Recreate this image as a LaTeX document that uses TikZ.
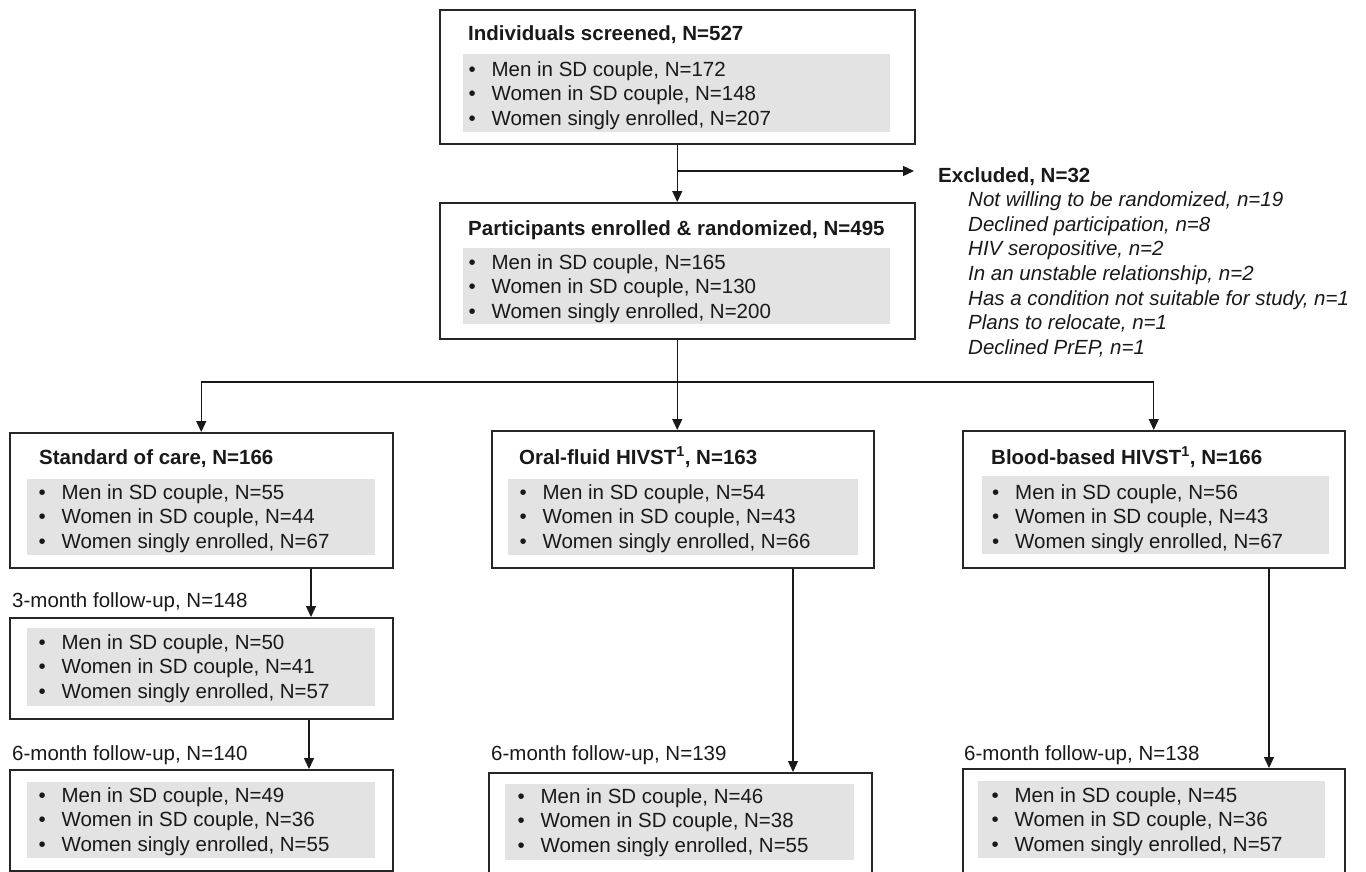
\documentclass[tikz,border=0pt]{standalone}
\usepackage{fontspec}
\setmainfont{Liberation Sans}
\usetikzlibrary{arrows.meta}

\newcommand{\fs}{\fontsize{20.5}{24.6}\selectfont}
\newcommand{\threelines}[5]{
	\node [item] (#1-a) at (#2) {#3};
	\node [item] (#1-b) at ([yshift=-24.6pt]#1-a.base west) {#4};
	\node [item] (#1-c) at ([yshift=-24.6pt]#1-b.base west) {#5};
}

\begin{document}
\begin{tikzpicture}[x=1pt, y=-1pt, font=\fs, text=black!90,
	box/.style={draw=black!85, line width=1.5pt, anchor=north west, inner sep=0},
	band/.style={fill=black!11, anchor=north west, inner sep=0},
	title/.style={anchor=base west, inner sep=0, font=\fs\bfseries},
	label/.style={anchor=base west, inner sep=0},
	reason/.style={anchor=base west, inner sep=0, font=\fs\itshape},
	item/.style={anchor=base west, inner sep=0, execute at begin node={\makebox[23pt][l]{\textbullet}}},
	arr/.style={draw=black!90, line width=1.3pt, -{Triangle[length=11pt, width=10pt]}}]
	\useasboundingbox (0, 0) rectangle (1366, 871);
	\node [box, minimum width=475pt, minimum height=134pt] (screen) at (439, 9) {};
	\node [band, minimum width=427pt, minimum height=78pt] (screen-band) at (463, 54) {};
	\node [title] (screen-title) at (468, 40) {Individuals screened, N=527};
	\threelines{screen}{468.4, 76.3}{Men in SD couple, N=172}{Women in SD couple, N=148}{Women singly enrolled, N=207}
	\node [box, minimum width=475pt, minimum height=136pt] (enrol) at (439, 202) {};
	\node [band, minimum width=427pt, minimum height=76pt] (enrol-band) at (463, 248) {};
	\node [title] (enrol-title) at (468, 235) {Participants enrolled \& randomized, N=495};
	\threelines{enrol}{468.4, 269.3}{Men in SD couple, N=165}{Women in SD couple, N=130}{Women singly enrolled, N=200}
	\node [title] (excl) at (938, 182) {Excluded, N=32};
	\foreach \reasontext [count=\i] in {{Not willing to be randomized, n=19}, {Declined participation, n=8}, {HIV seropositive, n=2}, {In an unstable relationship, n=2}, {Has a condition not suitable for study, n=1}, {Plans to relocate, n=1}, {Declined PrEP, n=1}}
		\node [reason] (excl-\i) at (968, 181.6 + 24.7*\i) {\reasontext};
	\node [box, minimum width=383pt, minimum height=135pt] (soc) at (9, 432) {};
	\node [band, minimum width=348pt, minimum height=76pt] (soc-band) at (27, 479) {};
	\node [title] (soc-title) at (39, 464) {Standard of care, N=166};
	\threelines{soc}{38.4, 499.3}{Men in SD couple, N=55}{Women in SD couple, N=44}{Women singly enrolled, N=67}
	\node [label] (soc3-label) at (12, 607) {3-month follow-up, N=148};
	\node [box, minimum width=383pt, minimum height=101pt] (soc3) at (9, 617) {};
	\node [band, minimum width=348pt, minimum height=78pt] (soc3-band) at (27, 628) {};
	\threelines{soc3}{38.4, 649.3}{Men in SD couple, N=50}{Women in SD couple, N=41}{Women singly enrolled, N=57}
	\node [label] (soc6-label) at (12, 760) {6-month follow-up, N=140};
	\node [box, minimum width=383pt, minimum height=101pt] (soc6) at (9, 769) {};
	\node [band, minimum width=348pt, minimum height=76pt] (soc6-band) at (27, 782) {};
	\threelines{soc6}{38.4, 802.3}{Men in SD couple, N=49}{Women in SD couple, N=36}{Women singly enrolled, N=55}
	\node [box, minimum width=382pt, minimum height=137pt] (oral) at (491, 430) {};
	\node [band, minimum width=350pt, minimum height=76pt] (oral-band) at (508, 479) {};
	\node [title] (oral-title) at (519, 464) {Oral-fluid HIVST\textsuperscript{1}, N=163};
	\threelines{oral}{519.4, 499.3}{Men in SD couple, N=54}{Women in SD couple, N=43}{Women singly enrolled, N=66}
	\node [label] (oral6-label) at (491, 760) {6-month follow-up, N=139};
	\node [box, minimum width=383pt, minimum height=104pt] (oral6) at (488, 772) {};
	\node [band, minimum width=349pt, minimum height=76pt] (oral6-band) at (505, 784) {};
	\threelines{oral6}{517.4, 803.3}{Men in SD couple, N=46}{Women in SD couple, N=38}{Women singly enrolled, N=55}
	\node [box, minimum width=382pt, minimum height=137pt] (blood) at (962, 430) {};
	\node [band, minimum width=347pt, minimum height=78pt] (blood-band) at (982, 476) {};
	\node [title] (blood-title) at (991, 464) {Blood-based HIVST\textsuperscript{1}, N=166};
	\threelines{blood}{992, 499.3}{Men in SD couple, N=56}{Women in SD couple, N=43}{Women singly enrolled, N=67}
	\node [label] (blood6-label) at (964, 760) {6-month follow-up, N=138};
	\node [box, minimum width=382pt, minimum height=107pt] (blood6) at (962, 768) {};
	\node [band, minimum width=347pt, minimum height=77pt] (blood6-band) at (978, 781) {};
	\threelines{blood6}{991.4, 802.3}{Men in SD couple, N=45}{Women in SD couple, N=36}{Women singly enrolled, N=57}
	\coordinate (split1) at (screen.south |- 0, 171);
	\coordinate (excl-in) at (914, 171);
	\coordinate (split2) at (enrol.south |- 0, 382);
	\draw [arr] (screen.south) -- (enrol.north);
	\draw [arr] (split1) -- (excl-in);
	\draw [arr, -] (enrol.south) -- (split2);
	\draw [arr] (split2) -| (soc.north);
	\draw [arr] (split2) -- (split2 |- oral.north);
	\draw [arr] (split2) -| (blood.north);
	\draw [arr] (soc.south -| 311, 0) -- (soc3.north -| 311, 0);
	\draw [arr] (soc3.south -| 309, 0) -- (soc6.north -| 309, 0);
	\draw [arr] (oral.south -| 793, 0) -- (oral6.north -| 793, 0);
	\draw [arr] (blood.south -| 1269, 0) -- (blood6.north -| 1269, 0);
\end{tikzpicture}
\end{document}
